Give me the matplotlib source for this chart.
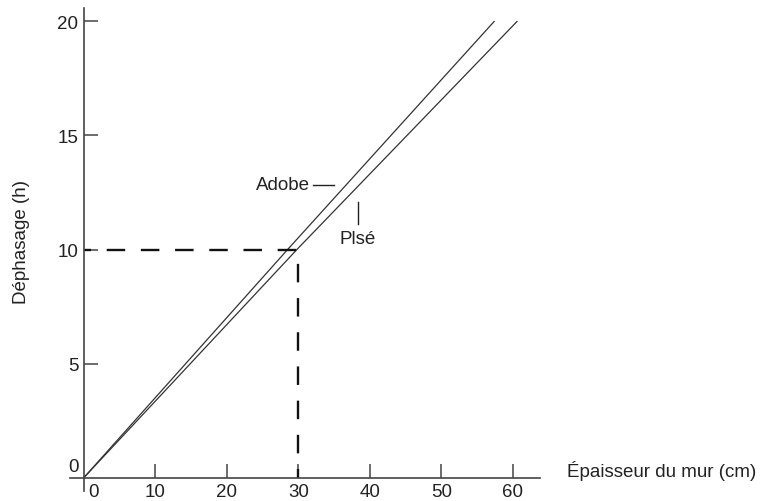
import matplotlib
matplotlib.use("Agg")
import matplotlib.pyplot as plt

plt.rcParams['font.family'] = ['Liberation Sans', 'DejaVu Sans']

# Data
adobe_x = [0, 28.5, 57.4]
adobe_y = [0, 10, 20]
pise_x = [0, 29.8, 60.6]
pise_y = [0, 10, 20]
ref_x = 30
ref_y = 10
x_ticks = [10, 20, 30, 40, 50, 60]
y_ticks = [5, 10, 15, 20]
x_label = "Épaisseur du mur (cm)"
y_label = "Déphasage (h)"
label_adobe = "Adobe"
label_pise = "Plsé"

W, H = 771, 502
fig = plt.figure(figsize=(W / 100, H / 100), dpi=100)
ax = fig.add_axes([69.7 / W, (H - 492.2) / H, 471.6 / W, 483.4 / H])
ax.set_xlim(-2, 64)
ax.set_ylim(-0.6, 20.6)

axc = '#444444'
for s in ['top', 'right']:
    ax.spines[s].set_visible(False)
ax.spines['left'].set_position(('data', 0))
ax.spines['bottom'].set_position(('data', 0))
ax.spines['left'].set_bounds(-0.6, 20.6)
ax.spines['bottom'].set_bounds(-2, 63.8)
for s in ['left', 'bottom']:
    ax.spines[s].set_color(axc)
    ax.spines[s].set_linewidth(1.2)

ax.set_xticks(x_ticks)
ax.set_yticks(y_ticks)
ax.tick_params(direction='in', length=10, width=1.1, color=axc,
               labelsize=13.5, labelcolor='#222222')
ax.tick_params(axis='x', pad=4)
ax.tick_params(axis='y', pad=4)

# Zero labels placed like the reference
ax.text(1.3, -0.6, "0", ha='center', va='center', fontsize=13.5, color='#222222')
ax.text(-0.7, 0.5, "0", ha='right', va='center', fontsize=13.5, color='#222222')

# Lines
ax.plot(adobe_x, adobe_y, color='#333333', lw=0.9)
ax.plot(pise_x, pise_y, color='#333333', lw=0.9)

# Dashed reference
lw = 1.7
ax.plot([0, ref_x, ref_x], [ref_y, ref_y, 0], color='#111111', lw=lw,
        linestyle=(8.28 / lw, (13.32 / lw, 11.3 / lw)))

# Labels with leaders
ax.text(31.6, 12.83, label_adobe, ha='right', va='center', fontsize=13.5, color='#222222')
ax.plot([32.1, 35.0], [12.83, 12.83], color='#222222', lw=1.0)
ax.text(35.8, 10.5, label_pise, ha='left', va='center', fontsize=13.5, color='#222222')
ax.plot([38.3, 38.3], [12.1, 11.1], color='#222222', lw=1.0)

# Axis labels
fig.text(567 / W, 1 - 471 / H, x_label, ha='left', va='center', fontsize=13.5, color='#222222')
fig.text(21.7 / W, 1 - 242.5 / H, y_label, ha='center', va='center', rotation=90,
         fontsize=13.5, color='#222222')

fig.savefig("out.png", dpi=100)
